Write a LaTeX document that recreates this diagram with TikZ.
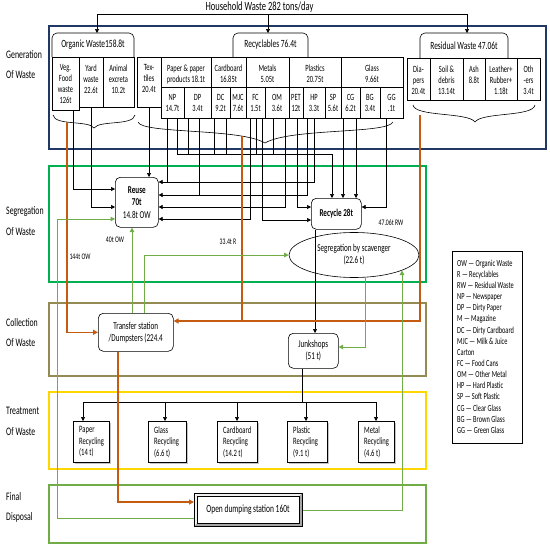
\documentclass[tikz,border=0pt]{standalone}
\usepackage{fontspec}
\setmainfont{Carlito}[FakeStretch=0.68]
\usetikzlibrary{arrows.meta,calc,shapes.geometric,shadows}
\definecolor{navy}{HTML}{1F3864}
\definecolor{sgreen}{HTML}{00B050}
\definecolor{khaki}{HTML}{948A54}
\definecolor{yel}{HTML}{FFD700}
\definecolor{olv}{HTML}{70AD47}
\definecolor{rust}{HTML}{C55A11}
\newcommand\fsz[2]{\fontsize{#1}{#2}\selectfont}
\newcommand\subbox[6]{%
  \node[sb, minimum width=#4, minimum height=#5] (#1) at (#2,#3) {};
  \node[sbt] (#1t) at ($(#1.north)+(0,7.5)$) {#6};}
\newcommand\trbox[5]{%
  \node[trt, minimum width=#4] (#1) at (#2,#3) {};
  \node[trtx] (#1t) at ($(#1.north west)+(6,5.5)$) {#5};}
\tikzset{
  sb/.style={draw, line width=0.6pt, anchor=north west, inner sep=0pt, outer sep=0pt, fill=white},
  sbt/.style={anchor=north, align=center, inner sep=0pt, font=\fsz{9.5}{11}},
  rbox/.style={draw, line width=0.6pt, rounded corners=5pt, anchor=north west, align=center, inner sep=1pt, fill=white},
  ln/.style={line width=0.6pt},
  wire/.style={line width=0.6pt, -{Triangle[length=4pt,width=4pt]}},
  orw/.style={draw=rust, line width=1.5pt, -{Triangle[length=5pt,width=5pt]}},
  orl/.style={draw=rust, line width=1.5pt},
  grw/.style={draw=olv, line width=1pt, -{Triangle[length=4.5pt,width=4.5pt]}},
  zone/.style={line width=1.3pt},
  side/.style={anchor=west, inner sep=0pt, font=\fsz{11.5}{13}},
  lbl/.style={inner sep=0pt, font=\fsz{8.5}{10}},
  trt/.style={draw, line width=0.6pt, anchor=north west, inner sep=0pt, minimum height=41, fill=white,
    drop shadow={shadow xshift=1.2pt, shadow yshift=-1.2pt, opacity=0.45}},
  trtx/.style={anchor=north west, align=left, inner sep=0pt, font=\fsz{9.7}{11.5}},
  hdr/.style={inner sep=0pt, font=\fsz{11}{13}},
}
\begin{document}
\begin{tikzpicture}[x=1pt,y=-1pt]
\fill[white] (0,0) rectangle (550,549);
\useasboundingbox (0,0) rectangle (550,549);

% zones
\draw[zone, navy] (49,26) rectangle (546,149);
\draw[zone, sgreen] (49,166) rectangle (426,282);
\draw[zone, khaki] (49,303) rectangle (426,376);
\draw[zone, yel] (49,392) rectangle (426,469);
\draw[zone, olv] (49,485) rectangle (426,543);

% side labels
\node[side] (s1a) at (6,55) {Generation};
\node[side] (s1b) at (6,75) {Of Waste};
\node[side] (s2a) at (6,212) {Segregation};
\node[side] (s2b) at (6,232) {Of Waste};
\node[side] (s3a) at (6,323) {Collection};
\node[side] (s3b) at (6,343) {Of Waste};
\node[side] (s4a) at (6,411) {Treatment};
\node[side] (s4b) at (6,432) {Of Waste};
\node[side] (s5a) at (6,497) {Final};
\node[side] (s5b) at (6,517) {Disposal};

% title
\node[inner sep=0pt, font=\fsz{12.5}{14}] (title) at (259.5,7.5) {Household Waste 282 tons/day};
\coordinate (tb1) at (97,14);
\coordinate (tb2) at (268,14);
\coordinate (tb3) at (467,14);
\draw[ln] (tb1) -- (tb3);

% headers
\draw[ln, rounded corners=5pt, fill=white] (52,57) -- (52,33) -- (134,33) -- (134,57);
\node[hdr] (orgh) at (93,45) {Organic Waste158.8t};
\draw[ln, rounded corners=5pt, fill=white] (233,57) -- (233,33) -- (308,33) -- (308,57);
\node[hdr] (rech) at (270.5,45) {Recyclables 76.4t};
\draw[ln, rounded corners=5pt, fill=white] (420,58) -- (420,33) -- (508,33) -- (508,58);
\node[hdr] (resh) at (464,46) {Residual Waste 47.06t};
\draw[wire] (tb1) -- (97,33);
\draw[wire] (tb2) -- (268,33);
\draw[wire] (tb3) -- (467,33);

% organic
\subbox{veg}{52}{57}{27}{53}{Veg.\\Food\\waste\\126t}
\subbox{yard}{79}{57}{24}{50}{Yard\\waste\\22.6t}
\subbox{anim}{103}{57}{31}{50}{Animal\\excreta\\10.2t}
\subbox{tex}{137}{57}{24}{50}{Tex-\\tiles\\20.4t}
% recyclables row 1
\subbox{pap}{161}{57}{50}{30}{Paper \& paper\\products 18.1t}
\subbox{card}{211}{57}{35}{30}{Cardboard\\16.85t}
\subbox{met}{246}{57}{43}{30}{Metals\\5.05t}
\subbox{pla}{289}{57}{52}{30}{Plastics\\20.75t}
\subbox{gla}{341}{57}{62}{30}{Glass\\9.66t}
% recyclables row 2
\subbox{np}{161}{87}{23}{31}{NP\\14.7t}
\subbox{dp}{184}{87}{27}{31}{DP\\3.4t}
\subbox{dc}{211}{87}{19}{31}{DC\\9.2t}
\subbox{mjc}{230}{87}{16}{31}{MJC\\7.6t}
\subbox{fc}{246}{87}{19}{31}{FC\\1.5t}
\subbox{om}{265}{87}{24}{31}{OM\\3.6t}
\subbox{pet}{289}{87}{14}{31}{PET\\12t}
\subbox{hp}{303}{87}{22}{31}{HP\\3.3t}
\subbox{sp}{325}{87}{16}{31}{SP\\5.6t}
\subbox{cg}{341}{87}{19}{31}{CG\\6.2t}
\subbox{bg}{360}{87}{20}{31}{BG\\3.4t}
\subbox{gg}{380}{87}{23}{31}{GG\\.1t}
% residual
\subbox{dia}{407}{58}{23}{42}{Dia-\\pers\\20.4t}
\subbox{soil}{430}{58}{33}{42}{Soil \&\\debris\\13.14t}
\subbox{ash}{463}{58}{22}{42}{Ash\\8.8t}
\subbox{lea}{485}{58}{32}{42}{Leather+\\Rubber+\\1.18t}
\subbox{oth}{517}{58}{23}{42}{Oth\\-ers\\3.4t}

% braces
\draw[ln] (53,115) .. controls (55,126) and (88,120) .. (94,128) .. controls (100,120) and (133,126) .. (135,115);
\draw[ln] (138,122) .. controls (142,134) and (240,128) .. (265,143) .. controls (290,128) and (388,134) .. (393,122);
\draw[ln] (413,105) .. controls (415,117) and (468,112) .. (475,122) .. controls (482,112) and (533,117) .. (535,105);

% main boxes
\node[rbox, minimum width=43, minimum height=50, font=\fsz{10.5}{12.5}] (reuse) at (115,177) {\textbf{Reuse}\\\textbf{70t}\\14.8t OW};
\node[rbox, minimum width=50, minimum height=31, font=\fsz{10.5}{12.5}] (rc) at (311,198) {\textbf{Recycle 28t}};
\node[draw, ellipse, line width=0.6pt, minimum width=130, minimum height=45, inner sep=0pt, align=center, fill=white, font=\fsz{10.5}{12}] (sc) at (354,255) {Segregation by scavenger\\(22.6 t)};
\node[rbox, minimum width=75, minimum height=38, font=\fsz{10.5}{12}] (tr) at (98,313) {Transfer station\\/Dumpsters (224.4};
\node[rbox, minimum width=50, minimum height=35, font=\fsz{10.5}{12}] (jk) at (288,333) {Junkshops\\(51 t)};

% open dumping station
\node[draw, line width=0.6pt, fill=gray!35, minimum width=108, minimum height=33, anchor=north west, inner sep=0pt] (od) at (194,493) {};
\fill[gray!70] (302,493) -- (302,526) -- (194,526) -- (197,523) -- (299,523) -- (299,496) -- cycle;
\fill[gray!12] (194,493) -- (302,493) -- (299,496) -- (197,496) -- (197,523) -- (194,526) -- cycle;
\draw[line width=0.6pt] (od.north west) rectangle (od.south east);
\draw[line width=0.4pt, fill=white] (197,496) rectangle (299,523);
\node[inner sep=0pt, font=\fsz{11}{13}] (odt) at (248,509.5) {Open dumping station 160t};

% treatment boxes
\trbox{prc}{73}{421}{36}{Paper\\Recycling\\(14 t)}
\trbox{grc}{148}{421}{38}{Glass\\Recycling\\(6.6 t)}
\trbox{crc}{217}{421}{40}{Cardboard\\Recycling\\(14.2 t)}
\trbox{plrc}{287}{421}{40}{Plastic\\Recycling\\(9.1 t)}
\trbox{mrc}{358}{421}{36}{Metal\\Recycling\\(4.6 t)}

% black wires to Reuse
\draw[wire] (veg.south -| 73,0) |- (reuse.west |- 0,189);
\draw[wire] (yard.south -| 91,0) |- (reuse.west |- 0,207);
\draw[wire] (tex.south -| 149,0) -- (reuse.north -| 149,0);
\draw[wire] (hp.south -| 314,0) |- (reuse.east |- 0,182);
\draw[wire] (hp.south -| 307,0) |- (reuse.east |- 0,195);
\draw[wire] (om.south -| 285,0) |- (reuse.east |- 0,207);
\draw[wire] (fc.south -| 250,0) |- (reuse.east |- 0,219);
% black wires to Recycle
\draw[wire] (np.south -| 177,0) |- (332,154) -- (rc.north -| 332,0);
\draw[wire] (cg.south -| 343,0) -- (rc.north -| 343,0);
\draw[wire] (cg.south -| 356,0) -- (rc.north -| 356,0);
\draw[wire] (gg.south -| 386,0) |- (rc.east |- 0,207);
\draw[wire] (pet.south -| 297,0) |- (rc.west |- 0,207);
\draw[wire] (fc.south -| 262,0) |- (rc.west |- 0,220);
% joining verticals
\draw[ln] (np.south -| 167,0) -- (167,182);
\draw[ln] (dp.south -| 188,0) -- (188,154);
\draw[ln] (dp.south -| 199,0) -- (199,195);
\draw[ln] (dc.south -| 214,0) -- (214,154);
\draw[ln] (dc.south -| 226,0) -- (226,154);
\draw[ln] (fc.south -| 256,0) -- (256,154);
\draw[ln] (om.south -| 273,0) -- (273,154);

% recycle -> junkshops -> treatment
\draw[wire] (rc.south -| 315,0) -- (jk.north -| 315,0);
\coordinate (ln1) at (83,402);
\coordinate (ln2) at (376,402);
\draw[ln] (jk.south -| 302,0) -- (302,402);
\draw[ln] (ln1) -- (ln2);
\draw[wire] (ln1) -- (prc.north -| 83,0);
\draw[wire] (165,402) -- (grc.north -| 165,0);
\draw[wire] (237,402) -- (crc.north -| 237,0);
\draw[wire] (306,402) -- (plrc.north -| 306,0);
\draw[wire] (ln2) -- (mrc.north -| 376,0);

% orange flows
\draw[orw] (67,122) |- (tr.west);
\draw[orw] (420,115) |- (tr.east |- 0,321);
\draw[orl] (242,136) -- (242,321);
\draw[orw] (tr.south -| 118,0) |- (od.west |- 0,502);

% green flows
\draw[grw] (od.west |- 0,518) -| (57,219) -- (reuse.west |- 0,219);
\draw[grw] (tr.north -| 132,0) -- (reuse.south -| 132,0);
\draw[grw] (tr.north -| 144,0) |- (sc.west);
\draw[grw] (365,277.2) |- (jk.east |- 0,347);
\draw[grw] (od.east |- 0,510) -| (402,270.5);

% flow labels
\node[lbl] (l144) at (80,257) {144t OW};
\node[lbl] (l40) at (115,240) {40t OW};
\node[lbl] (l33) at (228,242) {33.4t R};
\node[lbl] (l47) at (391,223) {47.06t RW};

% legend
\node[draw, line width=1.4pt, anchor=north west, minimum width=70, minimum height=192, inner sep=0pt] (leg) at (452,251) {};
\node[anchor=north west, align=left, inner sep=0pt, font=\fsz{9.3}{11.15}] (legt) at (457,259.5) {OW --- Organic Waste\\R --- Recyclables\\RW --- Residual Waste\\NP --- Newspaper\\DP --- Dirty Paper\\M --- Magazine\\DC --- Dirty Cardboard\\MJC --- Milk \& Juice\\Carton\\FC --- Food Cans\\OM --- Other Metal\\HP --- Hard Plastic\\SP --- Soft Plastic\\CG --- Clear Glass\\BG --- Brown Glass\\GG --- Green Glass};
\end{tikzpicture}
\end{document}
